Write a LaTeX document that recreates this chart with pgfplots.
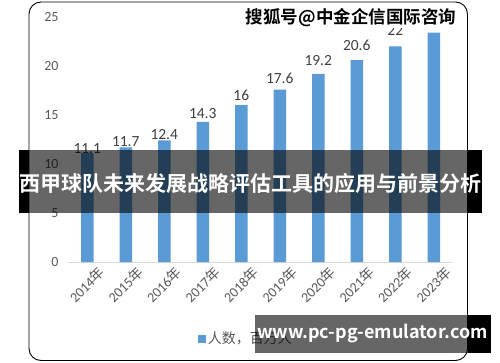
\documentclass[border=0pt]{standalone}
\usepackage{pgfplots}
\pgfplotsset{compat=1.18}
\usepackage{fontspec}
\setmainfont{Carlito}
\newfontfamily\cjk{Noto Sans CJK SC}
\newfontfamily\cjkb{Noto Sans CJK SC Bold}
\definecolor{barblue}{HTML}{5B9BD5}
\definecolor{txtgray}{HTML}{595959}
\definecolor{lblgray}{HTML}{404040}
\begin{document}
\begin{tikzpicture}[x=1pt,y=1pt]
\useasboundingbox (0,0) rectangle (500,362);
\fill[white] (0,0) rectangle (500,362);
\draw[black, line width=0.9pt, rounded corners=12pt] (29,1.5) rectangle (467.5,360);
\begin{axis}[
  at={(68pt,100pt)}, anchor=south west,
  scale only axis, width=385pt, height=245pt,
  xmin=-0.5, xmax=9.5, ymin=0, ymax=25,
  ybar, bar width=12.5pt,
  xtick=data,
  xticklabels={2014{\cjk 年},2015{\cjk 年},2016{\cjk 年},2017{\cjk 年},2018{\cjk 年},2019{\cjk 年},2020{\cjk 年},2021{\cjk 年},2022{\cjk 年},2023{\cjk 年}},
  ytick={0,5,10,15,20,25},
  axis x line*=bottom, axis y line*=left,
  x axis line style={draw=black!15, line width=0.9pt, -},
  y axis line style={draw=none},
  major tick length=0pt,
  /pgf/number format/assume math mode=true,
  yticklabel style={font=\fontsize{14}{14}\selectfont, text=txtgray, xshift=-6pt},
  xticklabel style={font=\fontsize{14}{14}\selectfont, text=txtgray, rotate=45, anchor=east, xshift=8pt, yshift=-16pt},
  visualization depends on={y \as \rawy},
  nodes near coords,
  nodes near coords style={font=\fontsize{15.5}{15.5}\selectfont, text=lblgray, yshift={7pt+(\rawy-22)*1pt}, /pgf/number format/assume math mode=true},
  legend style={at={(0.337,-0.313)}, anchor=west, draw=none, fill=none, font=\fontsize{14}{14}\selectfont\cjk, text=txtgray, inner sep=0pt},
  legend image code/.code={\fill[barblue] (0pt,-4pt) rectangle (8pt,4pt);},
  clip=false,
]
\addplot[fill=barblue, draw=none] coordinates {(0,11.1) (1,11.7) (2,12.4) (3,14.3) (4,16) (5,17.6) (6,19.2) (7,20.6) (8,22) (9,23.4)};
\addlegendentry{人数，百万人}
\end{axis}
% watermark top right
\node[fill=white, inner sep=1.5pt, text=black, font=\fontsize{17.5}{17.5}\cjkb] at (351,344.5) {搜狐号@中金企信国际咨询};
% banner
\fill[black, opacity=0.6] (29,149) rectangle (468,212);
\fill[black] (19,149) rectangle (29,212);
\fill[black] (468,149) rectangle (482,212);
\node[text=white, font=\fontsize{21}{21}\cjkb, inner sep=0pt] at (250.5,179) {西甲球队未来发展战略评估工具的应用与前景分析};
% url box
\fill[black, opacity=0.6] (255,9) rectangle (468,47);
\fill[black] (468,9) rectangle (491,47);
\node[text=white, font=\fontsize{18}{18}\cjkb, inner sep=0pt] at (372.5,28) {www.pc-pg-emulator.com};
\end{tikzpicture}
\end{document}
